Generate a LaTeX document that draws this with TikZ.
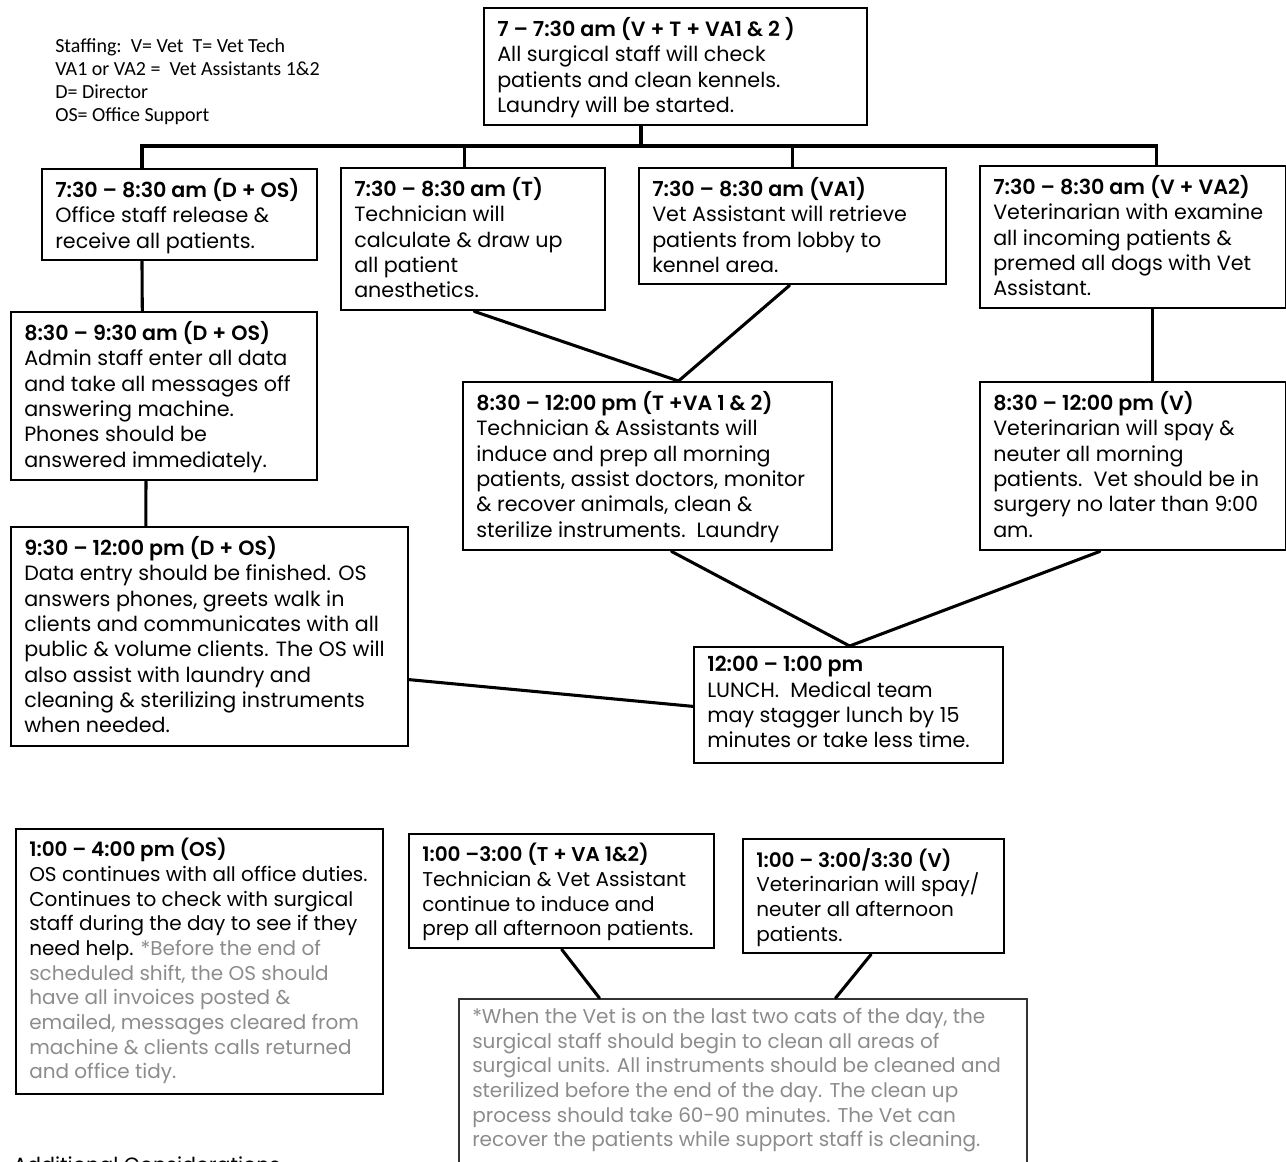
\documentclass[tikz,border=0pt]{standalone}
\usepackage{fontspec}
\setmainfont{Poppins}[BoldFont={Poppins SemiBold}]
\newfontfamily\calib{Carlito}
\usetikzlibrary{calc}
\definecolor{notegray}{RGB}{140,140,140}
\tikzset{
  boxx/.style={draw=black, line width=1.8pt, inner sep=0pt, anchor=north west},
  txt/.style={anchor=north west, inner sep=0pt, align=left, font=\fontsize{15.5}{19}\selectfont},
  txtb/.style={anchor=north west, inner sep=0pt, align=left, font=\fontsize{15}{18.5}\selectfont},
  link/.style={line width=2.3pt, line cap=round, line join=miter},
}
\newcommand\mkbox[6][]{\node[boxx,#1, minimum width={(#4-#2)*0.75pt}, minimum height={(#5-#3)*0.75pt}] (#6) at (#2,#3) {};}
\begin{document}
\begin{tikzpicture}[x=0.75pt,y=-0.75pt]
\useasboundingbox (0,0) rectangle (1286,1161);
\clip (0,0) rectangle (1286,1161);

% staffing legend
\node[anchor=north west, inner sep=0pt, align=left, font=\calib\fontsize{15}{17.25}\selectfont] (legend) at (55,38)
 {Staffing:\ \ V= Vet\ \ T= Vet Tech\\VA1 or VA2 =\ \ Vet Assistants 1\&2\\D= Director\\OS= Office Support};

% boxes
\mkbox{483}{7}{866}{124}{t0}
\mkbox{41}{168}{316}{259}{b1}
\mkbox{340}{167}{604}{309}{b2}
\mkbox{638}{167}{945}{283}{va}
\mkbox{979}{165}{1285}{307}{vv}
\mkbox{10}{311}{316}{479}{b3}
\mkbox{462}{381}{831}{549}{b5}
\mkbox{979}{381}{1285}{549}{b6}
\mkbox{10}{526}{407}{745}{b4}
\mkbox{693}{646}{1002}{762}{lu}
\mkbox{15}{828}{382}{1093}{b8}
\mkbox{408}{833}{713}{947}{b9}
\mkbox{742}{838}{1003}{952}{b10}
\mkbox[draw=black!80]{458}{998}{1026}{1180}{b11}

% texts
\node[txt] (t0t) at (497,17) {\textbf{7 – 7:30 am (V + T + VA1 \& 2 )}\\All surgical staff will check\\patients and clean kennels.\\Laundry will be started.};
\node[txt] (b1t) at (55,178) {\textbf{7:30 – 8:30 am (D + OS)}\\Office staff release \&\\receive all patients.};
\node[txt] (b2t) at (354,177) {\textbf{7:30 – 8:30 am (T)}\\Technician will\\calculate \& draw up\\all patient\\anesthetics.};
\node[txt] (vat) at (652,177) {\textbf{7:30 – 8:30 am (VA1)}\\Vet Assistant will retrieve\\patients from lobby to\\kennel area.};
\node[txt] (vvt) at (993,175) {\textbf{7:30 – 8:30 am (V + VA2)}\\Veterinarian with examine\\all incoming patients \&\\premed all dogs with Vet\\Assistant.};
\node[txt] (b3t) at (24,321) {\textbf{8:30 – 9:30 am (D + OS)}\\Admin staff enter all data\\and take all messages off\\answering machine.\\Phones should be\\answered immediately.};
\node[txt] (b5t) at (476,391) {\textbf{8:30 – 12:00 pm (T +VA 1 \& 2)}\\Technician \& Assistants will\\induce and prep all morning\\patients, assist doctors, monitor\\\& recover animals, clean \&\\sterilize instruments.\ \ Laundry};
\node[txt] (b6t) at (993,391) {\textbf{8:30 – 12:00 pm (V)}\\Veterinarian will spay \&\\neuter all morning\\patients.\ \ Vet should be in\\surgery no later than 9:00\\am.};
\node[txt] (b4t) at (24,536) {\textbf{9:30 – 12:00 pm (D + OS)}\\Data entry should be finished. OS\\answers phones, greets walk in\\clients and communicates with all\\public \& volume clients. The OS will\\also assist with laundry and\\cleaning \& sterilizing instruments\\when needed.};
\node[txt] (lut) at (707,656) {\textbf{12:00 – 1:00 pm}\\LUNCH.\ \ Medical team\\may stagger lunch by 15\\minutes or take less time.};
\node[txtb] (b8t) at (29,838) {\textbf{1:00 – 4:00 pm (OS)}\\OS continues with all office duties.\\Continues to check with surgical\\staff during the day to see if they\\need help. \textcolor{notegray}{*Before the end of}\\\color{notegray}scheduled shift, the OS should\\\color{notegray}have all invoices posted \&\\\color{notegray}emailed, messages cleared from\\\color{notegray}machine \& clients calls returned\\\color{notegray}and office tidy.};
\node[txtb] (b9t) at (422,843) {\textbf{1:00 –3:00 (T + VA 1\&2)}\\Technician \& Vet Assistant\\continue to induce and\\prep all afternoon patients.};
\node[txtb] (b10t) at (756,848) {\textbf{1:00 – 3:00/3:30 (V)}\\Veterinarian will spay/\\neuter all afternoon\\patients.};
\node[txtb, text=notegray] (b11t) at (472,1008) {*When the Vet is on the last two cats of the day, the\\surgical staff should begin to clean all areas of\\surgical units. All instruments should be cleaned and\\sterilized before the end of the day. The clean up\\process should take 60-90 minutes. The Vet can\\recover the patients while support staff is cleaning.};
\node[txt] (addc) at (13,1156) {Additional Considerations};

% connector points
\coordinate (busy) at (0,146);
\coordinate (t0p) at ($(t0.south west)!0.41!(t0.south east)$);
\coordinate (b1n) at ($(b1.north west)!0.364!(b1.north east)$);
\coordinate (b2n) at ($(b2.north west)!0.466!(b2.north east)$);
\coordinate (van) at ($(va.north west)!0.50!(va.north east)$);
\coordinate (vvn) at ($(vv.north west)!0.575!(vv.north east)$);
\coordinate (b1s) at ($(b1.south west)!0.364!(b1.south east)$);
\coordinate (b3n) at ($(b3.north west)!0.429!(b3.north east)$);
\coordinate (b3s) at ($(b3.south west)!0.441!(b3.south east)$);
\coordinate (b4n) at ($(b4.north west)!0.34!(b4.north east)$);
\coordinate (b2s) at ($(b2.south west)!0.504!(b2.south east)$);
\coordinate (vas) at ($(va.south west)!0.49!(va.south east)$);
\coordinate (b5n) at ($(b5.north west)!0.583!(b5.north east)$);
\coordinate (vvs) at ($(vv.south west)!0.562!(vv.south east)$);
\coordinate (b6n) at ($(b6.north west)!0.562!(b6.north east)$);
\coordinate (b5s) at ($(b5.south west)!0.564!(b5.south east)$);
\coordinate (b6s) at ($(b6.south west)!0.392!(b6.south east)$);
\coordinate (lun) at ($(lu.north west)!0.503!(lu.north east)$);
\coordinate (b4e) at ($(b4.north east)!0.694!(b4.south east)$);
\coordinate (luw) at ($(lu.north west)!0.51!(lu.south west)$);
\coordinate (b9s) at ($(b9.south west)!0.50!(b9.south east)$);
\coordinate (b10s) at ($(b10.south west)!0.49!(b10.south east)$);
\coordinate (b11a) at ($(b11.north west)!0.248!(b11.north east)$);
\coordinate (b11b) at ($(b11.north west)!0.662!(b11.north east)$);

% connectors
\draw[link] (t0p) -- (t0p |- busy);
\draw[link] (b1n) -- (b1n |- busy) -- (vvn |- busy) -- (vvn);
\draw[link] (b2n |- busy) -- (b2n);
\draw[link] (van |- busy) -- (van);
\draw[link] (b1s) -- (b3n);
\draw[link] (b3s) -- (b4n);
\draw[link] (b2s) -- (b5n);
\draw[link] (vas) -- (b5n);
\draw[link] (vvs) -- (b6n);
\draw[link] (b5s) -- (lun);
\draw[link] (b6s) -- (lun);
\draw[link] (b4e) -- (luw);
\draw[link] (b9s) -- (b11a);
\draw[link] (b10s) -- (b11b);
\end{tikzpicture}
\end{document}
